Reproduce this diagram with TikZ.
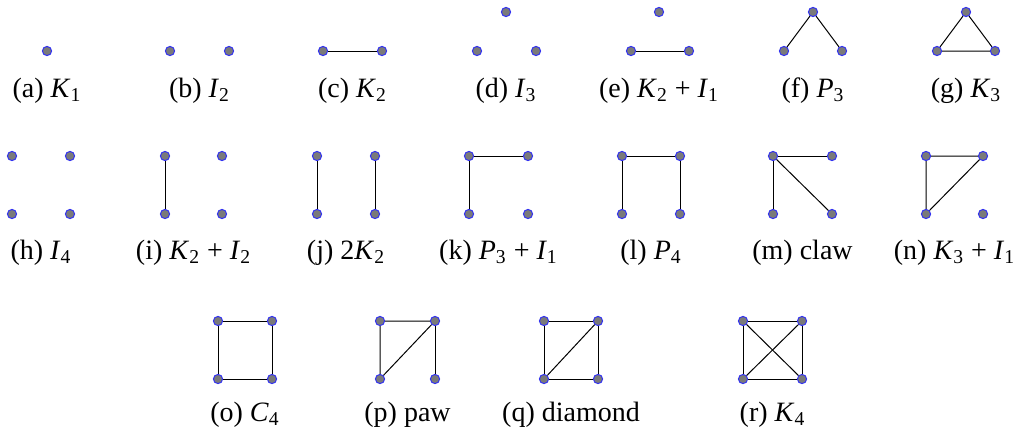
\documentclass[tikz,border=0pt]{standalone}
\usepackage{fontspec}
\setmainfont{Liberation Serif}
\usepackage{xcolor}
\definecolor{vxfill}{HTML}{7A7A7A}
\definecolor{vxline}{HTML}{3333F0}
\newcommand{\gsub}[2]{\textit{#1}\textsubscript{#2}}

\begin{document}
\begin{tikzpicture}[x=0.5pt, y=-0.5pt,
    vx/.style={circle, draw=vxline, fill=vxfill, line width=0.5pt,
               minimum size=4.6pt, inner sep=0pt},
    ed/.style={line width=0.5pt, black},
    lbl/.style={anchor=base, inner sep=0pt, font=\rmfamily\fontsize{14}{16}\selectfont}]
    \useasboundingbox (0,0) rectangle (1020,435);

    % row 1
    \node[vx] (a1) at (47,51) {};
    \node[lbl] (la) at (47,97) {(a) \gsub{K}{1}};

    \node[vx] (b1) at (170,51) {};
    \node[vx] (b2) at (229,51) {};
    \node[lbl] (lb) at (199.5,97) {(b) \gsub{I}{2}};

    \node[vx] (c1) at (323,51) {};
    \node[vx] (c2) at (382,51) {};
    \draw[ed] (c1) -- (c2);
    \node[lbl] (lc) at (352.5,97) {(c) \gsub{K}{2}};

    \node[vx] (d1) at (477,51) {};
    \node[vx] (d2) at (506,12) {};
    \node[vx] (d3) at (536,51) {};
    \node[lbl] (ld) at (506,97) {(d) \gsub{I}{3}};

    \node[vx] (e1) at (631,51) {};
    \node[vx] (e2) at (659,12) {};
    \node[vx] (e3) at (689,51) {};
    \draw[ed] (e1) -- (e3);
    \node[lbl] (le) at (659,97) {(e) \gsub{K}{2} + \gsub{I}{1}};

    \node[vx] (f1) at (784,51) {};
    \node[vx] (f2) at (813,12) {};
    \node[vx] (f3) at (842,51) {};
    \draw[ed] (f1) -- (f2) -- (f3);
    \node[lbl] (lf) at (813,97) {(f) \gsub{P}{3}};

    \node[vx] (g1) at (937,51) {};
    \node[vx] (g2) at (966,12) {};
    \node[vx] (g3) at (995,51) {};
    \draw[ed] (g1) -- (g2) -- (g3) -- (g1);
    \node[lbl] (lg) at (966,97) {(g) \gsub{K}{3}};

    % row 2
    \node[vx] (h1) at (12,156) {};
    \node[vx] (h2) at (70,156) {};
    \node[vx] (h3) at (12,214) {};
    \node[vx] (h4) at (70,214) {};
    \node[lbl] (lh) at (41,259) {(h) \gsub{I}{4}};

    \node[vx] (i1) at (165,156) {};
    \node[vx] (i2) at (222,156) {};
    \node[vx] (i3) at (165,214) {};
    \node[vx] (i4) at (222,214) {};
    \draw[ed] (i1) -- (i3);
    \node[lbl] (li) at (193.5,259) {(i) \gsub{K}{2} + \gsub{I}{2}};

    \node[vx] (j1) at (317,156) {};
    \node[vx] (j2) at (375,156) {};
    \node[vx] (j3) at (317,214) {};
    \node[vx] (j4) at (375,214) {};
    \draw[ed] (j1) -- (j3);
    \draw[ed] (j2) -- (j4);
    \node[lbl] (lj) at (346,259) {(j) 2\gsub{K}{2}};

    \node[vx] (k1) at (469,156) {};
    \node[vx] (k2) at (528,156) {};
    \node[vx] (k3) at (469,214) {};
    \node[vx] (k4) at (528,214) {};
    \draw[ed] (k3) -- (k1) -- (k2);
    \node[lbl] (lk) at (498.5,259) {(k) \gsub{P}{3} + \gsub{I}{1}};

    \node[vx] (l1) at (622,156) {};
    \node[vx] (l2) at (680,156) {};
    \node[vx] (l3) at (622,214) {};
    \node[vx] (l4) at (680,214) {};
    \draw[ed] (l3) -- (l1) -- (l2) -- (l4);
    \node[lbl] (ll) at (651,259) {(l) \gsub{P}{4}};

    \node[vx] (m1) at (773,156) {};
    \node[vx] (m2) at (832,156) {};
    \node[vx] (m3) at (773,214) {};
    \node[vx] (m4) at (832,214) {};
    \draw[ed] (m1) -- (m2);
    \draw[ed] (m1) -- (m3);
    \draw[ed] (m1) -- (m4);
    \node[lbl] (lm) at (802.5,259) {(m) claw};

    \node[vx] (n1) at (926,156) {};
    \node[vx] (n2) at (983,156) {};
    \node[vx] (n3) at (926,214) {};
    \node[vx] (n4) at (983,214) {};
    \draw[ed] (n1) -- (n2) -- (n3) -- (n1);
    \node[lbl] (ln) at (954.5,259) {(n) \gsub{K}{3} + \gsub{I}{1}};

    % row 3
    \node[vx] (o1) at (218,321) {};
    \node[vx] (o2) at (272,321) {};
    \node[vx] (o3) at (218,379) {};
    \node[vx] (o4) at (272,379) {};
    \draw[ed] (o1) -- (o2) -- (o4) -- (o3) -- (o1);
    \node[lbl] (lo) at (245,421) {(o) \gsub{C}{4}};

    \node[vx] (p1) at (380,321) {};
    \node[vx] (p2) at (435,321) {};
    \node[vx] (p3) at (380,379) {};
    \node[vx] (p4) at (435,379) {};
    \draw[ed] (p1) -- (p2) -- (p3) -- (p1);
    \draw[ed] (p2) -- (p4);
    \node[lbl] (lp) at (407.5,421) {(p) paw};

    \node[vx] (q1) at (544,321) {};
    \node[vx] (q2) at (598,321) {};
    \node[vx] (q3) at (544,379) {};
    \node[vx] (q4) at (598,379) {};
    \draw[ed] (q1) -- (q2) -- (q4) -- (q3) -- (q1);
    \draw[ed] (q2) -- (q3);
    \node[lbl] (lq) at (571,421) {(q) diamond};

    \node[vx] (r1) at (743,321) {};
    \node[vx] (r2) at (802,321) {};
    \node[vx] (r3) at (743,379) {};
    \node[vx] (r4) at (802,379) {};
    \draw[ed] (r1) -- (r2) -- (r4) -- (r3) -- (r1);
    \draw[ed] (r1) -- (r4);
    \draw[ed] (r2) -- (r3);
    \node[lbl] (lr) at (772.5,421) {(r) \gsub{K}{4}};
\end{tikzpicture}
\end{document}
